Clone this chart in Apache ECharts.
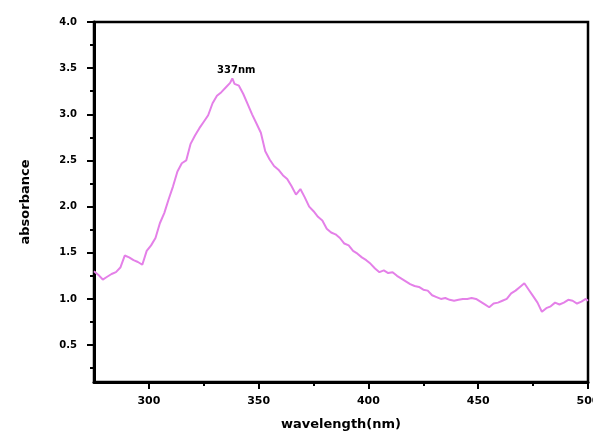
<!DOCTYPE html>
<html>
<head>
<meta charset="utf-8">
<script src="https://cdn.jsdelivr.net/npm/echarts@6/dist/echarts.min.js"></script>
<style>html,body{margin:0;padding:0;background:#fff;}#c{width:593px;height:434px;}</style>
</head>
<body>
<div id="c"></div>
<script>
const wavelengths = [275,277,279,281,283,285,287,289,291,293,295,297,299,301,303,305,307,309,311,313,315,317,319,321,323,325,327,329,331,333,335,337,338,339,341,343,345,347,349,351,353,355,357,359,361,363,365,367,369,371,373,375,377,379,381,383,385,387,389,391,393,395,397,399,401,403,405,407,409,411,413,415,417,419,421,423,425,427,429,431,433,435,437,439,441,443,445,447,449,451,453,455,457,459,461,463,465,467,469,471,473,475,477,479,481,483,485,487,489,491,493,495,497,499,500];
const absorbance = [1.30,1.26,1.21,1.24,1.27,1.29,1.34,1.47,1.45,1.42,1.40,1.37,1.52,1.58,1.66,1.82,1.93,2.08,2.22,2.38,2.47,2.50,2.68,2.77,2.85,2.92,2.99,3.12,3.20,3.24,3.29,3.34,3.39,3.33,3.31,3.22,3.11,3.00,2.90,2.80,2.60,2.51,2.44,2.40,2.34,2.30,2.22,2.13,2.19,2.10,2.00,1.95,1.89,1.85,1.76,1.72,1.70,1.66,1.60,1.58,1.52,1.49,1.45,1.42,1.38,1.33,1.29,1.31,1.28,1.29,1.25,1.22,1.19,1.16,1.14,1.13,1.10,1.09,1.04,1.02,1.00,1.01,0.99,0.98,0.99,1.00,1.00,1.01,1.00,0.97,0.94,0.91,0.95,0.96,0.98,1.00,1.06,1.09,1.13,1.17,1.10,1.03,0.96,0.86,0.90,0.92,0.96,0.94,0.96,0.99,0.98,0.95,0.97,1.00,0.98];
const xMajorTicks = [300,350,400,450,500];
const xMinorTicks = [325,375,425,475];
const yMajorTicks = [0.5,1.0,1.5,2.0,2.5,3.0,3.5,4.0];
const yMinorTicks = [0.25,0.75,1.25,1.75,2.25,2.75,3.25,3.75];
const peakLabel = '337nm';
const peakPoint = [338, 3.39];

const font = 'DejaVu Sans, Arial, sans-serif';
const chart = echarts.init(document.getElementById('c'), null, {renderer:'canvas'});
const data = wavelengths.map((w,i)=>[w, absorbance[i]]);
chart.setOption({
  animation:false,
  backgroundColor:'#fff',
  grid:{left:94,right:5,top:22,bottom:52,show:true,borderColor:'#000',borderWidth:2.5,backgroundColor:'transparent',outerBoundsMode:'none',containLabel:false},
  xAxis:[{
    type:'value',min:275,max:500,
    name:'wavelength(nm)',nameLocation:'middle',nameGap:36,
    nameTextStyle:{fontFamily:font,fontWeight:'bold',fontSize:13,color:'#000'},
    axisLine:{show:true,lineStyle:{color:'#000',width:3}},
    axisTick:{show:true,inside:false,length:7,lineStyle:{color:'#000',width:2},customValues:xMajorTicks},
    axisLabel:{margin:14,fontFamily:font,fontWeight:'bold',fontSize:11,color:'#000',customValues:xMajorTicks,formatter:v=>String(v),hideOverlap:false,showMaxLabel:true},
    splitLine:{show:false}
  },{
    type:'value',min:275,max:500,position:'bottom',
    axisLine:{show:false},
    axisTick:{show:true,inside:false,length:4,lineStyle:{color:'#000',width:2},customValues:xMinorTicks},
    axisLabel:{show:false},
    splitLine:{show:false}
  }],
  yAxis:[{
    type:'value',min:0.1,max:4.0,
    name:'absorbance',nameLocation:'middle',nameGap:62,nameRotate:90,
    nameTextStyle:{fontFamily:font,fontWeight:'bold',fontSize:13,color:'#000'},
    axisLine:{show:true,lineStyle:{color:'#000',width:3}},
    axisTick:{show:true,inside:false,length:7,lineStyle:{color:'#000',width:2},customValues:yMajorTicks},
    axisLabel:{margin:17,fontFamily:font,fontWeight:'bold',fontSize:10,color:'#000',customValues:yMajorTicks,formatter:v=>v.toFixed(1)},
    splitLine:{show:false}
  },{
    type:'value',min:0.1,max:4.0,position:'left',
    axisLine:{show:false},
    axisTick:{show:true,inside:false,length:4,lineStyle:{color:'#000',width:2},customValues:yMinorTicks},
    axisLabel:{show:false},
    splitLine:{show:false}
  }],
  series:[{
    type:'line',data:data,showSymbol:false,symbol:'none',
    lineStyle:{color:'#e480e8',width:2},
    markPoint:{
      symbol:'circle',symbolSize:0,
      data:[{coord:peakPoint}],
      label:{show:true,position:'top',distance:3,offset:[4,0],formatter:peakLabel,fontFamily:font,fontWeight:'bold',fontSize:10,color:'#000'}
    }
  }]
});
</script>
</body>
</html>
